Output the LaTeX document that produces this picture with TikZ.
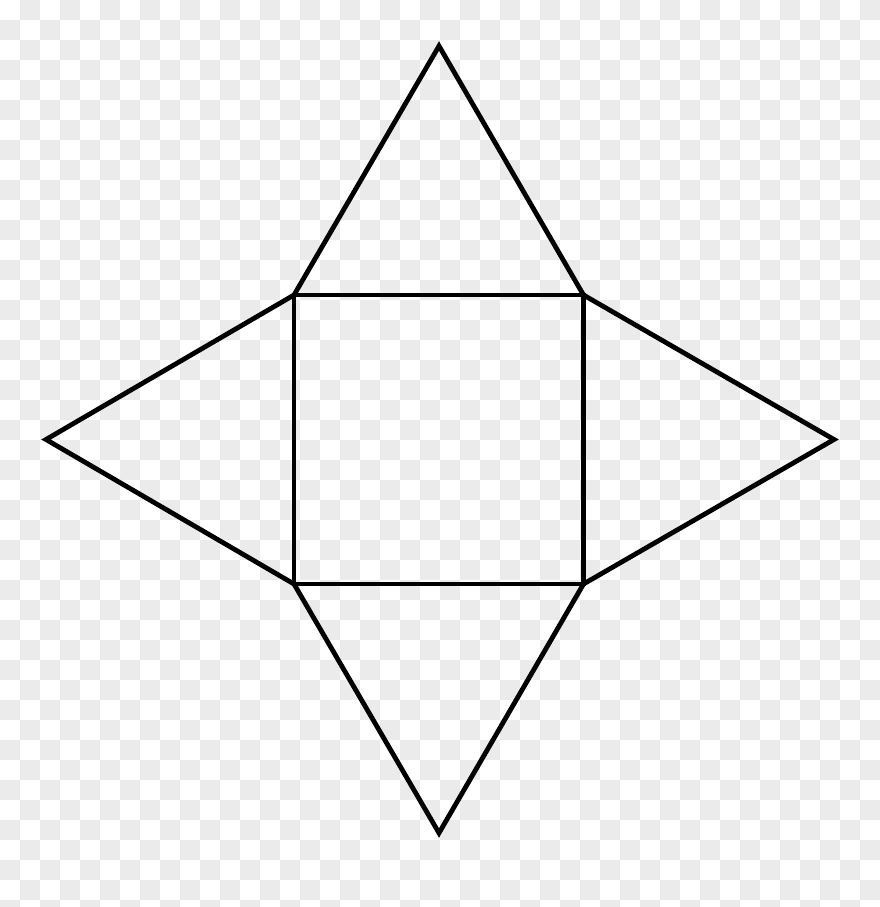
\documentclass[tikz,border=0pt]{standalone}
\definecolor{checkgray}{RGB}{235,235,235}
\tikzset{
  netline/.style={draw=black, line width=4.8pt, line join=miter, miter limit=10},
}
\begin{document}
\begin{tikzpicture}[x=1pt,y=-1pt]
\useasboundingbox (0,0) rectangle (880,907);
\begin{scope}
\clip (0,0) rectangle (880,907);
\fill[white] (0,0) rectangle (880,907);
\foreach \j in {0,...,45}{
  \foreach \i in {0,...,43}{
    \pgfmathtruncatemacro\oddsum{mod(\i+\j,2)}
    \ifnum\oddsum=1
      \fill[checkgray] (20*\i,20*\j) rectangle (20*\i+20,20*\j+20);
    \fi
  }
}
\end{scope}
\coordinate (tl) at (294,295);
\coordinate (tr) at (583.5,295);
\coordinate (br) at (583.5,584);
\coordinate (bl) at (294,584);
\coordinate (top) at (439,46);
\coordinate (bot) at (439,833);
\coordinate (lft) at (46,439.5);
\coordinate (rgt) at (834,439.5);
\draw[netline] (tl) -- (tr) -- (br) -- (bl) -- cycle;
\draw[netline] (tl) -- (top) -- (tr);
\draw[netline] (tr) -- (rgt) -- (br);
\draw[netline] (br) -- (bot) -- (bl);
\draw[netline] (bl) -- (lft) -- (tl);
\end{tikzpicture}
\end{document}
